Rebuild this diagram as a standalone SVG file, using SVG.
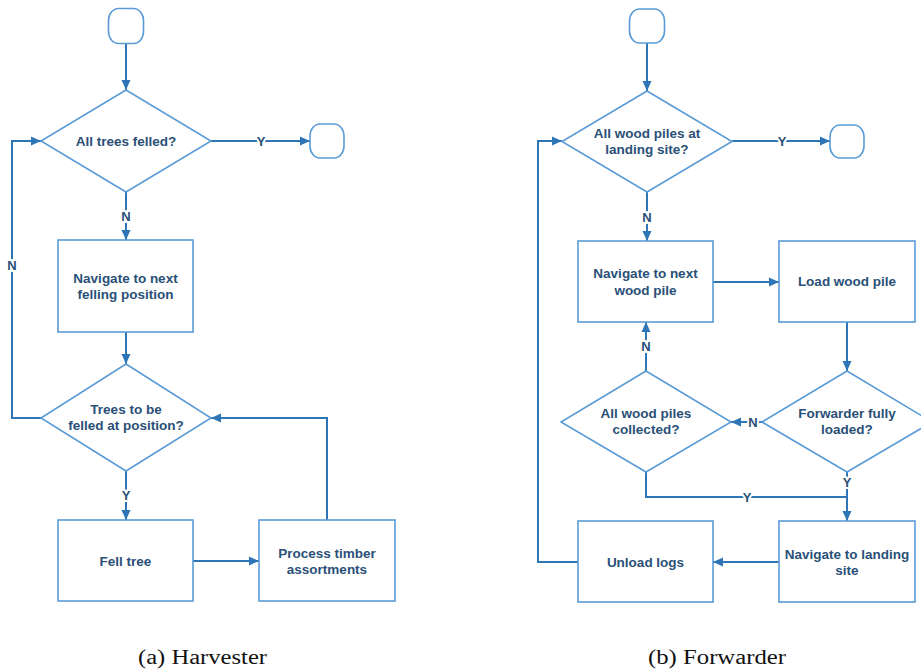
<svg xmlns="http://www.w3.org/2000/svg" width="921" height="670" viewBox="0 0 921 670">
<defs>
<marker id="ah" markerUnits="userSpaceOnUse" markerWidth="10" markerHeight="10" viewBox="0 0 10 10" refX="10" refY="5" orient="auto">
<path d="M0,0.5 L10,5 L0,9.5 Z" fill="#2e75b6"/>
</marker>
<style>
.box{fill:#fff;stroke:#5b9bd5;stroke-width:1.6}
.conn{fill:none;stroke:#2e75b6;stroke-width:2}
.arr{marker-end:url(#ah)}
.t{font-family:"Liberation Sans",Arial,sans-serif;font-weight:bold;font-size:13.5px;fill:#2a5078;text-anchor:middle}
.lbl{font-family:"Liberation Sans",Arial,sans-serif;font-weight:bold;font-size:13px;fill:#2a5078;text-anchor:middle;stroke:#fff;stroke-width:4;paint-order:stroke}
.cap{font-family:"Liberation Serif","Times New Roman",serif;font-size:20px;fill:#111;text-anchor:middle}
</style>
</defs>
<rect width="921" height="670" fill="#fff"/>

<g id="connectors">
<!-- Harvester -->
<path class="conn arr" d="M126,43 V90"/>
<path class="conn arr" d="M211,141 H310"/>
<path class="conn arr" d="M126,192 V240"/>
<path class="conn arr" d="M126,332 V364"/>
<path class="conn arr" d="M41,418 H12 V141 H41"/>
<path class="conn arr" d="M126,471 V520"/>
<path class="conn arr" d="M193,561 H259"/>
<path class="conn arr" d="M327,520 V418 H211"/>
<!-- Forwarder -->
<path class="conn arr" d="M647,43 V91"/>
<path class="conn arr" d="M732,141 H830"/>
<path class="conn arr" d="M647,192 V241"/>
<path class="conn arr" d="M713,282 H779"/>
<path class="conn arr" d="M847,322 V371"/>
<path class="conn arr" d="M762,422 H731"/>
<path class="conn arr" d="M646,371 V322"/>
<path class="conn" d="M646,472 V497 H847"/>
<path class="conn arr" d="M847,472 V521"/>
<path class="conn arr" d="M779,562 H713"/>
<path class="conn arr" d="M578,562 H538 V141 H562"/>
<!-- labels -->
<text class="lbl" x="261" y="146">Y</text>
<text class="lbl" x="126" y="221">N</text>
<text class="lbl" x="12" y="270">N</text>
<text class="lbl" x="126" y="500">Y</text>
<text class="lbl" x="782" y="146">Y</text>
<text class="lbl" x="647" y="222">N</text>
<text class="lbl" x="646" y="351">N</text>
<text class="lbl" x="753" y="427">N</text>
<text class="lbl" x="847" y="487">Y</text>
<text class="lbl" x="747" y="502">Y</text>
</g>

<!-- Harvester nodes -->
<g id="h-start"><rect class="box" x="108.5" y="8.5" width="35" height="35" rx="10" ry="12"/></g>
<g id="h-end"><rect class="box" x="310" y="124" width="34" height="34" rx="10" ry="12"/></g>
<g id="h-dec1">
<polygon class="box" points="126,90 211,141 126,192 41,141"/>
<text class="t" x="126" y="146">All trees felled?</text>
</g>
<g id="h-nav">
<rect class="box" x="58" y="240" width="135" height="92"/>
<text class="t" x="125.5" y="283">Navigate to next</text>
<text class="t" x="125.5" y="299">felling position</text>
</g>
<g id="h-dec2">
<polygon class="box" points="126,364 211,418 126,471 41,418"/>
<text class="t" x="126" y="414">Trees to be</text>
<text class="t" x="126" y="430">felled at position?</text>
</g>
<g id="h-fell">
<rect class="box" x="58" y="520" width="135" height="81"/>
<text class="t" x="125.5" y="566">Fell tree</text>
</g>
<g id="h-proc">
<rect class="box" x="259" y="520" width="136" height="81"/>
<text class="t" x="327" y="558">Process timber</text>
<text class="t" x="327" y="574">assortments</text>
</g>

<!-- Forwarder nodes -->
<g id="f-start"><rect class="box" x="629.5" y="9" width="35" height="34" rx="10" ry="12"/></g>
<g id="f-end"><rect class="box" x="830" y="125" width="34" height="33" rx="10" ry="12"/></g>
<g id="f-dec1">
<polygon class="box" points="647,91 732,141.5 647,192 562,141.5"/>
<text class="t" x="647" y="138">All wood piles at</text>
<text class="t" x="647" y="154">landing site?</text>
</g>
<g id="f-nav">
<rect class="box" x="578" y="241" width="135" height="81"/>
<text class="t" x="645.5" y="278">Navigate to next</text>
<text class="t" x="645.5" y="295">wood pile</text>
</g>
<g id="f-load">
<rect class="box" x="779" y="241" width="136" height="81"/>
<text class="t" x="847" y="286">Load wood pile</text>
</g>
<g id="f-full">
<polygon class="box" points="847,371 932,422 847,472 762,422"/>
<text class="t" x="847" y="418">Forwarder fully</text>
<text class="t" x="847" y="434">loaded?</text>
</g>
<g id="f-coll">
<polygon class="box" points="646,371 731,422 646,472 561,422"/>
<text class="t" x="646" y="418">All wood piles</text>
<text class="t" x="646" y="434">collected?</text>
</g>
<g id="f-navland">
<rect class="box" x="779" y="521" width="136" height="81"/>
<text class="t" x="847" y="559">Navigate to landing</text>
<text class="t" x="847" y="575">site</text>
</g>
<g id="f-unload">
<rect class="box" x="578" y="521" width="135" height="81"/>
<text class="t" x="645.5" y="567">Unload logs</text>
</g>

<text class="cap" x="202.5" y="664" textLength="129" lengthAdjust="spacingAndGlyphs">(a) Harvester</text>
<text class="cap" x="717" y="664" textLength="138" lengthAdjust="spacingAndGlyphs">(b) Forwarder</text>
</svg>
